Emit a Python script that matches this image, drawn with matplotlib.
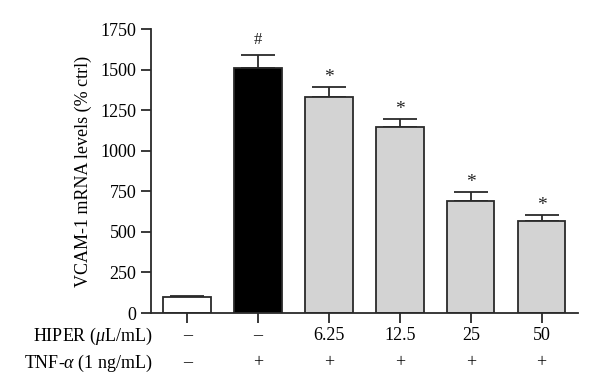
import matplotlib
matplotlib.use("Agg")
import matplotlib.pyplot as plt
import numpy as np

plt.rcParams['font.family'] = ['Liberation Serif', 'DejaVu Serif']
plt.rcParams['mathtext.fontset'] = 'custom'
plt.rcParams['mathtext.rm'] = 'Liberation Serif'
plt.rcParams['mathtext.it'] = 'Liberation Serif:italic'

values = [100, 1508, 1333, 1144, 692, 569]
errors = [5, 82, 58, 53, 52, 35]
hiper_labels = ["–", "–", "6.25", "12.5", "25", "50"]
tnf_labels = ["–", "+", "+", "+", "+", "+"]
marks = ["", "#", "*", "*", "*", "*"]
colors = ["white", "black", "#d3d3d3", "#d3d3d3", "#d3d3d3", "#d3d3d3"]
yticks = [0, 250, 500, 750, 1000, 1250, 1500, 1750]

fig = plt.figure(figsize=(6.0, 3.92), dpi=100)
ax = fig.add_axes([0.2517, 0.2015, 0.7113, 0.7245])
x = np.arange(len(values))
ax.bar(x, values, width=0.67, color=colors, edgecolor="#2a2a2a", linewidth=1.3, zorder=2)
ax.errorbar(x, values, yerr=[np.zeros(len(errors)), errors], fmt='none',
            ecolor="#2a2a2a", elinewidth=1.3, capsize=12, capthick=1.3, zorder=1)
for xi, v, e, m in zip(x, values, errors, marks):
    if m == "#":
        ax.text(xi, v + e + 40, m, ha='center', va='bottom', fontsize=12, color="#222222")
    elif m:
        ax.text(xi, v + e + 5, m, ha='center', va='bottom', fontsize=14, color="#222222")

ax.set_xlim(-0.51, 5.51)
ax.set_ylim(0, 1750)
ax.set_yticks(yticks)
ax.set_yticklabels([str(t) for t in yticks], fontsize=13)
ax.set_xticks(x)
ax.set_xticklabels([])
ax.tick_params(axis='both', direction='out', length=7, width=1.3, color="#2a2a2a")
for s in ['top', 'right']:
    ax.spines[s].set_visible(False)
for s in ['left', 'bottom']:
    ax.spines[s].set_linewidth(1.3)
    ax.spines[s].set_color("#2a2a2a")
ax.set_ylabel("VCAM-1 mRNA levels (% ctrl)", fontsize=13, labelpad=6)

# row labels below the axis
trans = ax.get_xaxis_transform()
for xi, h, t in zip(x, hiper_labels, tnf_labels):
    ax.text(xi, -0.08, h, transform=trans, ha='center', va='center', fontsize=13)
    ax.text(xi, -0.175, t, transform=trans, ha='center', va='center', fontsize=13)
fig.text(153 / 600, 1 - 336 / 392, r"HIPER ($\mu$L/mL)", ha='right', va='center', fontsize=13)
fig.text(153 / 600, 1 - 363 / 392, r"TNF-$\alpha$ (1 ng/mL)", ha='right', va='center', fontsize=13)

fig.savefig("out.png", dpi=100)
